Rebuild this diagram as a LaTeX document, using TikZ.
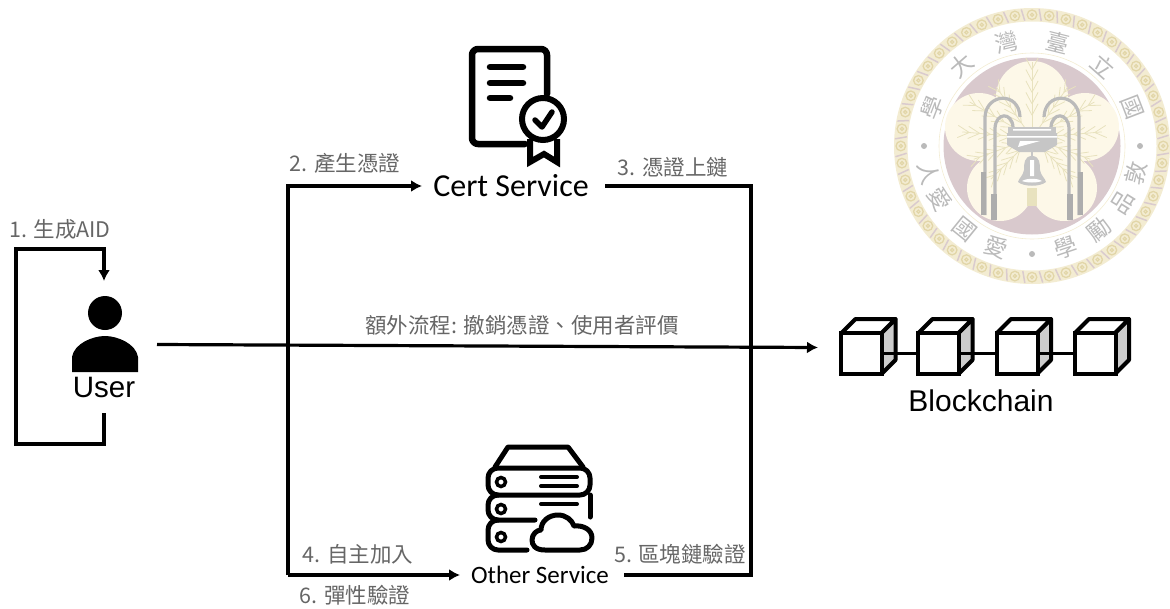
\documentclass[tikz,border=0pt]{standalone}
\usepackage{fontspec}
\setmainfont{Liberation Sans}
\newfontfamily\cjk{Noto Sans CJK TC}
\newfontfamily\carlito{Carlito}
\usetikzlibrary{arrows.meta}
\usetikzlibrary{calc}

\tikzset{
	wire/.style={line width=3.2pt},
	icon/.style={line width=5pt,line cap=round,line join=round},
	step label/.style={text=black!60,font=\cjk\fontsize{21.5}{24}\selectfont,inner sep=0pt},
	black label/.style={text=black,inner sep=0pt},
	seal text/.style={text=black!27,font=\cjk\fontsize{23}{24}\selectfont,inner sep=0pt},
	arch/.style={draw=black!27,line width=3.2pt},
	frond/.style={draw=sealpalm,line width=.8pt},
	block/.style={draw,line width=4pt,fill=white,minimum size=41pt,inner sep=0pt},
}
\definecolor{sealring}{HTML}{F3ECD2}
\definecolor{sealswirl}{HTML}{E2D6A8}
\definecolor{sealpink}{HTML}{DACBCE}
\definecolor{sealdisc}{HTML}{D9C9CD}
\definecolor{sealpetal}{HTML}{FDF8E8}
\definecolor{sealpalm}{HTML}{E8E2BE}
\definecolor{sealmetal}{HTML}{C6C6C6}

\begin{document}
\begin{tikzpicture}[x=1pt,y=-1pt,>/.tip={Latex[length=11pt,width=12pt]}]
	\useasboundingbox (0,0) rectangle (1170,608);
	% seal behind everything
	\begin{scope}[shift={(1032,146)},y=1pt]
		\fill[sealring,even odd rule] (0,0) circle (138) (0,0) circle (124.5);
		\foreach \a in {0,7.5,...,352.5} {
			\draw[sealswirl,line width=1.3pt] (\a:131.2) circle (4.8);
			\draw[sealswirl,line width=1.2pt] (\a:131.2) circle (1.6);
			\draw[sealpink,line width=1.5pt] (\a+3.3:125.5) -- (\a+4.5:137);
		}
		\draw[sealring,line width=.6pt] (0,0) circle (93);
		\fill[sealdisc] (0,0) circle (88.5);
		\fill[sealpetal] (0,49) circle (36) (-53,19) circle (34) (53,19) circle (34) (-32,-42) circle (33) (32,-42) circle (33) (0,0) circle (42);
		\fill[sealdisc] (-3,-66) -- (0,-62) -- (3,-66) -- (0,-72) -- cycle;
		\foreach \a/\l in {90/76,125/62,150/72,30/72,55/62,175/70,5/70,200/62,340/62,225/58,315/58} {
			\draw[frond] (0,8) -- ++(\a:\l);
			\foreach \t in {.3,.45,.6,.75,.9}
				\draw[frond] ($(0,8)+(\a:\t*\l)$) -- ++(\a+28:13) ($(0,8)+(\a:\t*\l)$) -- ++(\a-28:13);
		}
		\foreach \s in {1,-1} {
			\begin{scope}[xscale=\s]
				\draw[arch] (-47,-69) -- (-47,29) .. controls (-46,53) and (-13,55) .. (-12,29);
				\draw[arch] (-37,-74) -- (-37,18) .. controls (-36,34) and (-20,34) .. (-19,19);
				\fill[black!32] (-51,-69) rectangle (-46,-26);
				\fill[black!32] (-41,-74) rectangle (-35,-48);
			\end{scope}
		}
		\fill[sealmetal] (-24,19) rectangle (24,13);
		\fill[sealmetal] (-25,13) -- (25,13) -- (25,1) -- (13,-6) -- (-13,-6) -- (-25,1) -- cycle;
		\fill[white] (-19,17) rectangle (19,15.5) (-25,10) rectangle (25,8.5) (-12,5) -- (8,5) -- (-14,-1) -- cycle;
		\fill[sealmetal] (-1.2,-6) rectangle (1.2,-12);
		\fill[sealmetal] (0,-10) .. controls (8,-10) and (8,-18) .. (8,-24) .. controls (9,-30) and (13,-32) .. (14,-36) .. controls (8,-41) and (-8,-41) .. (-14,-36) .. controls (-13,-32) and (-9,-30) .. (-8,-24) .. controls (-8,-18) and (-8,-10) .. (0,-10);
		\fill[white] (-2,-14) rectangle (2,-30) (-10,-35) .. controls (-5,-32) and (5,-32) .. (10,-35) .. controls (5,-37) and (-5,-37) .. (-10,-35);
		\fill[sealpalm] (-5,-42) rectangle (5,-60);
		\foreach \c/\a in {學/159,大/131,灣/103.5,臺/76,立/48.5,國/21}
			\node[seal text,rotate=\a-90] at (\a:107) {\c};
		\foreach \c/\a in {人/195,愛/210,國/231,愛/250.5,學/288.5,勵/309,品/328,敦/345.5}
			\node[seal text,rotate=\a+90] at (\a:107) {\c};
		\foreach \a in {0,180,270}
			\fill[black!27] (\a:108) circle (3);
	\end{scope}
	% user
	\fill (105,313) circle (17);
	\fill (72,372) -- (72,357) .. controls (74,344) and (92,336) .. (105,336) .. controls (118,336) and (136,344) .. (138,357) -- (138,372) -- cycle;
	\node (user) [black label,font=\fontsize{29.5}{31}\selectfont] at (104,387) {User};
	% certificate icon
	\draw[icon,line width=6.5pt] (547,94) -- (547,55) [rounded corners=6pt] -- (547,49) -- (472,49) -- (472,144) -- (525,144);
	\foreach \y/\e in {67/523,83/523,98/510}
		\draw[icon,line width=6.5pt] (490,\y) -- (\e,\y);
	\draw[line width=6pt] (543,119) circle (21);
	\draw[icon,line width=5.5pt] (535,120) -- (542,127) -- (552,112);
	\draw[line width=6pt,line join=miter] (530,139) -- (530,162) -- (544,154) -- (557,162) -- (557,139);
	\node (cert) [black label,font=\carlito\fontsize{32}{34}\selectfont] at (511,186) {Cert Service};
	% server icon
	\draw[icon] (495,467) -- (508,447) -- (568,447) -- (583,467);
	\draw[icon,rounded corners=10pt] (488,468) rectangle (590,495);
	\draw[icon,rounded corners=10pt] (498,495) -- (488,495) -- (488,520) -- (535,520);
	\draw[icon,rounded corners=8pt] (590,495) -- (590,506) -- (590,517);
	\draw[icon,rounded corners=10pt] (498,520) -- (488,520) -- (488,550) -- (527,550);
	\foreach \y in {482,509,537}
		\draw[line width=3.5pt] (501,\y) circle (4.5);
	\foreach \y in {477,486,504}
		\draw[icon,line width=4pt] (541,\y) -- (577,\y);
	\draw[icon,fill=white] (545,550) .. controls (535,550) and (532,545) .. (532,540) .. controls (532,534) and (537,530) .. (541,530) .. controls (541,521) and (549,515) .. (558,515) .. controls (566,515) and (572,520) .. (574,526) .. controls (584,525) and (592,530) .. (592,538) .. controls (592,545) and (587,550) .. (580,550) -- cycle;
	\node (other) [black label,font=\carlito\fontsize{25}{27}\selectfont] at (540,575) {Other Service};
	% blockchain
	\foreach \i/\x in {1/861.5,2/938.5,3/1017,4/1095} {
		\draw[line width=4pt,line join=round,fill=black!20] (\x+20,333) -- (\x+34,319) -- (\x+34,360) -- (\x+20,374) -- cycle;
		\draw[line width=4pt,line join=round,fill=white] (\x-20,333) -- (\x-6,319) -- (\x+34,319) -- (\x+20,333) -- cycle;
		\node (block\i) [block] at (\x,353.5) {};
	}
	\draw[line width=3.5pt] (block1) -- (block2);
	\draw[line width=3.5pt] (block2) -- (block3);
	\draw[line width=3.5pt] (block3) -- (block4);
	\node (chain) [black label,font=\fontsize{30}{32}\selectfont] at (981,401) {Blockchain};
	% connectors
	\coordinate (userloop) at (104,413);
	\coordinate (userin) at (104,281);
	\coordinate (userout) at (157,344.5);
	\coordinate (chainin) at (818,347.5);
	\coordinate (certin) at (422,186);
	\coordinate (certout) at (605,186);
	\coordinate (otherin) at (460,575);
	\coordinate (otherout) at (624,575);
	\coordinate (corner) at (288,575);
	\draw[wire,->] (userloop) -- (104,444) -- (16,444) -- (16,249) -- (104,249) -- (userin);
	\draw[wire,->] (userout) -- (chainin);
	\draw[wire,->] (corner) -- (288,186) -- (certin);
	\draw[wire,->] (corner) -- (otherin);
	\draw[wire] (certout) -- (751,186) -- (751,575) -- (otherout);
	% labels
	\node (aid) [step label] at (60,229) {1. 生成AID};
	\node (issue) [step label] at (345,163) {2. 產生憑證};
	\node (onchain) [step label] at (673,167) {3. 憑證上鏈};
	\node (extra) [step label] at (522,325) {額外流程: 撤銷憑證、使用者評價};
	\node (join) [step label] at (358,554) {4. 自主加入};
	\node (verify) [step label] at (680,554) {5. 區塊鏈驗證};
	\node (flex) [step label] at (355,595) {6. 彈性驗證};
\end{tikzpicture}
\end{document}
